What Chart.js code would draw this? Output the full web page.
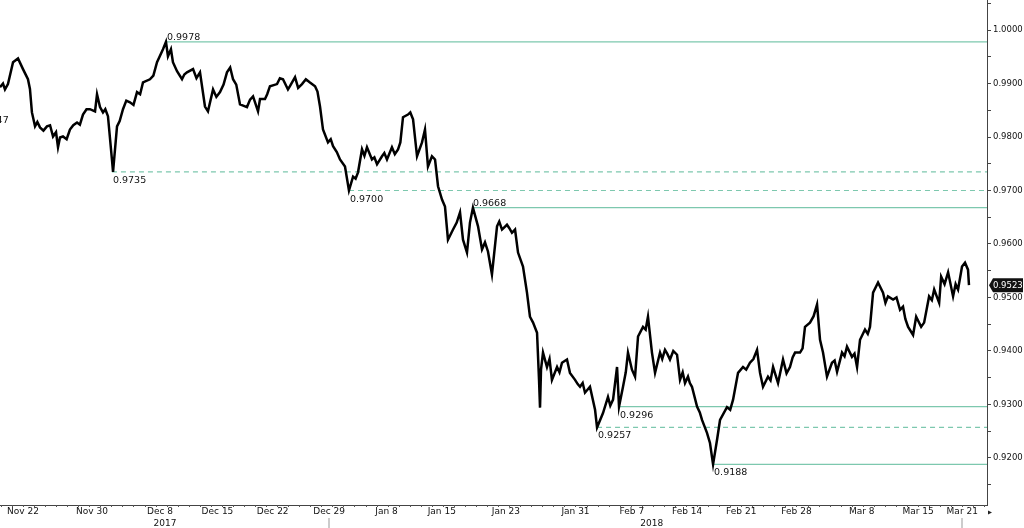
<!DOCTYPE html>
<html><head><meta charset="utf-8">
<script src="https://cdn.jsdelivr.net/npm/chart.js@4.4.1/dist/chart.umd.min.js"></script>
<style>html,body{margin:0;padding:0;background:#fff;}canvas{display:block;}</style>
</head><body>
<canvas id="c" width="1024" height="528"></canvas>
<script>
// trading-day index since Nov 22
const days = [-2.08,-1.81,-1.63,-1.36,-0.90,-0.45,0,0.45,0.63,0.81,1.09,1.30,1.54,1.85,2.17,2.45,2.72,2.99,3.17,3.35,3.62,3.95,4.25,4.55,4.89,5.15,5.43,5.75,6.06,6.52,6.70,6.97,7.24,7.45,7.69,8.05,8.15,8.51,8.75,9.05,9.35,9.68,10.00,10.32,10.60,10.86,11.49,11.80,12.13,12.67,12.94,13.12,13.39,13.57,13.94,14.39,14.60,14.84,15.39,15.70,16.02,16.47,16.74,17.20,17.50,17.83,18.15,18.46,18.75,19.01,19.30,19.64,
20.27,20.55,20.82,21.27,21.45,21.90,22.10,22.35,22.99,23.25,23.53,23.98,24.16,24.62,24.90,25.25,25.60,25.97,26.43,26.65,26.88,27.15,27.60,27.85,28.06,28.40,28.69,29.14,29.50,29.87,30.10,30.32,30.68,30.90,31.13,31.58,31.80,32.04,32.49,32.70,32.94,33.39,33.65,33.94,34.15,34.39,34.84,35.05,35.30,35.66,36.11,36.38,36.65,37.01,37.29,37.56,37.92,38.19,38.46,38.92,39.25,39.55,39.82,40.18,40.45,40.72,41.18,41.54,
41.81,42.08,42.44,42.90,43.10,43.35,43.80,44.00,44.25,44.53,44.80,45.25,45.61,45.88,46.16,46.52,46.70,46.79,46.88,47.06,47.42,47.65,47.87,48.33,48.55,48.78,49.23,49.50,49.96,50.20,50.41,50.65,50.86,51.31,51.77,51.95,52.49,52.94,53.15,53.40,53.76,53.94,54.30,54.55,54.75,55.11,55.39,55.66,56.11,56.35,56.56,56.92,57.20,57.65,57.85,58.10,58.30,58.55,58.85,59.19,59.46,59.70,59.91,60.18,60.35,60.54,61.00,61.25,61.45,61.90,62.17,62.45,62.81,
63.08,63.71,64.00,64.26,64.71,65.16,65.45,65.79,66.10,66.43,66.70,66.97,67.42,67.65,67.88,68.33,68.78,69.10,69.41,69.65,69.87,70.32,70.55,70.77,71.22,71.55,71.86,72.13,72.40,72.76,73.21,73.45,73.67,74.12,74.35,74.57,75.02,75.25,75.48,75.75,76.20,76.45,76.65,76.93,77.38,77.83,78.05,78.28,78.74,79.05,79.37,79.64,79.85,80.10,80.55,80.83,81.28,81.55,82.00,82.25,82.46,82.91,83.09,83.40,83.72,84.17,84.40,84.62,84.98,85.25,85.52,85.61];
const prices = [0.9893,0.9900,0.9889,0.9899,0.9940,0.9947,0.9927,0.9908,0.9890,0.9846,0.9820,0.9828,0.9818,0.9812,0.9820,0.9822,0.9801,0.9809,0.9781,0.9799,0.9801,0.9796,0.9814,0.9822,0.9827,0.9823,0.9842,0.9852,0.9852,0.9848,0.9880,0.9856,0.9846,0.9852,0.9839,0.9758,0.9735,0.9820,0.9830,0.9852,0.9868,0.9865,0.9860,0.9884,0.9880,0.9902,0.9908,0.9915,0.9940,0.9964,0.9978,0.9951,0.9964,0.9940,0.9923,0.9908,0.9917,0.9921,0.9927,0.9910,0.9921,0.9857,0.9848,0.9889,0.9875,0.9884,0.9898,0.9921,0.9930,0.9908,0.9898,0.9861,
0.9856,0.9870,0.9876,0.9848,0.9871,0.9871,0.9880,0.9895,0.9899,0.9910,0.9908,0.9889,0.9895,0.9912,0.9892,0.9899,0.9908,0.9902,0.9895,0.9885,0.9857,0.9814,0.9790,0.9796,0.9783,0.9772,0.9758,0.9745,0.9700,0.9726,0.9722,0.9734,0.9777,0.9765,0.9781,0.9758,0.9762,0.9749,0.9764,0.9770,0.9758,0.9781,0.9768,0.9777,0.9790,0.9837,0.9842,0.9846,0.9833,0.9764,0.9790,0.9814,0.9745,0.9764,0.9758,0.9708,0.9683,0.9670,0.9608,0.9627,0.9640,0.9659,0.9608,0.9584,0.9640,0.9668,0.9633,0.9590,
0.9603,0.9586,0.9543,0.9633,0.9642,0.9627,0.9636,0.9630,0.9621,0.9627,0.9584,0.9558,0.9509,0.9464,0.9453,0.9434,0.9346,0.9294,0.9365,0.9397,0.9370,0.9385,0.9346,0.9370,0.9360,0.9378,0.9384,0.9359,0.9346,0.9338,0.9333,0.9340,0.9322,0.9333,0.9290,0.9257,0.9284,0.9314,0.9298,0.9309,0.9370,0.9296,0.9333,0.9360,0.9397,0.9365,0.9352,0.9427,0.9445,0.9440,0.9464,0.9397,0.9359,0.9397,0.9385,0.9402,0.9395,0.9384,0.9400,0.9393,0.9346,0.9360,0.9340,0.9352,0.9340,0.9333,0.9296,0.9285,0.9271,0.9247,0.9228,0.9188,0.9234,
0.9271,0.9295,0.9290,0.9309,0.9359,0.9370,0.9365,0.9378,0.9385,0.9402,0.9359,0.9333,0.9352,0.9345,0.9370,0.9340,0.9384,0.9358,0.9370,0.9388,0.9397,0.9397,0.9405,0.9445,0.9453,0.9465,0.9487,0.9421,0.9397,0.9352,0.9378,0.9382,0.9361,0.9397,0.9390,0.9408,0.9389,0.9395,0.9370,0.9421,0.9440,0.9432,0.9445,0.9509,0.9528,0.9509,0.9490,0.9502,0.9496,0.9500,0.9477,0.9483,0.9460,0.9445,0.9430,0.9464,0.9445,0.9453,0.9502,0.9495,0.9515,0.9490,0.9539,0.9525,0.9547,0.9502,0.9525,0.9515,0.9558,0.9565,0.9552,0.9523];

const xTickDays = [0,6.24,12.4,17.6,22.6,27.7,32.9,37.9,43.7,50.0,55.1,60.1,65.0,70.0,75.9,81.0,85.0];
const xTickLabels = ['Nov 22','Nov 30','Dec 8','Dec 15','Dec 22','Dec 29','Jan 8','Jan 15','Jan 23','Jan 31','Feb 7','Feb 14','Feb 21','Feb 28','Mar 8','Mar 15','Mar 21'];
const yearLabels = ['2017','2018'];
const yearDays = [12.85, 56.9];
const separatorDays = [27.7, 85.0];

const levelValues = [0.9978, 0.9735, 0.9700, 0.9668, 0.9296, 0.9257, 0.9188];
const levelStarts = [12.94, 8.05, 29.50, 40.63, 53.94, 51.95, 62.45];
const levelDashed = [false, true, true, false, false, true, false];
const levelAbove  = [true, false, false, true, false, false, false];
const offLabelValue = 0.9847, offLabelDay = -4.3;

const yLabelValues = [0.92,0.93,0.94,0.95,0.96,0.97,0.98,0.99,1.00];
const yMinorValues = [0.915,0.925,0.935,0.945,0.955,0.965,0.975,0.985,0.995,1.005];
const lastPrice = 0.9523;

const X_MIN = -2.08, X_MAX = 87.24, Y_MIN = 0.91120, Y_MAX = 1.00562;
const TEAL = 'rgb(125,200,174)';
const FONT = "'DejaVu Sans', Verdana, sans-serif";

Chart.defaults.font.family = FONT;
Chart.defaults.font.size = 9;
Chart.defaults.color = '#111';

const datasets = [{
  data: days.map((d,i)=>({x:d, y:prices[i]})),
  borderColor: '#000', borderWidth: 2.5, pointRadius: 0, tension: 0, order: 0
}];
levelValues.forEach((v,i)=>{
  datasets.push({
    data: [{x: levelStarts[i], y: v}, {x: X_MAX, y: v}],
    borderColor: TEAL, borderWidth: 1.2, pointRadius: 0,
    borderDash: levelDashed[i] ? [5,4] : [], order: 1
  });
});

const zeroPad = s => { s.paddingTop = 0; s.paddingBottom = 0; s.paddingLeft = 0; s.paddingRight = 0; };

const overlay = {
  id: 'overlay',
  afterDatasetsDraw(chart) {
    const ctx = chart.ctx, xs = chart.scales.x, ys = chart.scales.y, ca = chart.chartArea;
    ctx.save();
    ctx.font = '9.5px ' + FONT; ctx.fillStyle = '#111'; ctx.textAlign = 'left'; ctx.textBaseline = 'alphabetic';
    levelValues.forEach((v,i)=>{
      const px = xs.getPixelForValue(levelStarts[i]) + 1;
      const py = ys.getPixelForValue(v);
      ctx.fillText(v.toFixed(4), px, levelAbove[i] ? py - 1.5 : py + 11);
    });
    ctx.fillText(offLabelValue.toFixed(4), xs.getPixelForValue(offLabelDay), ys.getPixelForValue(offLabelValue) + 11);
    ctx.strokeStyle = '#555'; ctx.lineWidth = 1;
    for (let d = Math.ceil(X_MIN); d <= Math.floor(X_MAX); d++) {
      const px = Math.round(xs.getPixelForValue(d)) + 0.5;
      ctx.beginPath(); ctx.moveTo(px, ca.bottom); ctx.lineTo(px, ca.bottom + 2); ctx.stroke();
    }
    ctx.font = '9px ' + FONT; ctx.fillStyle = '#111'; ctx.textAlign = 'center'; ctx.textBaseline = 'middle';
    yearLabels.forEach((t,i)=> ctx.fillText(t, xs.getPixelForValue(yearDays[i]), ca.bottom + 18.5));
    ctx.strokeStyle = '#bbb'; ctx.lineWidth = 1.5;
    separatorDays.forEach(d=>{
      const px = Math.round(xs.getPixelForValue(d));
      ctx.beginPath(); ctx.moveTo(px, ca.bottom + 13); ctx.lineTo(px, chart.height); ctx.stroke();
    });
    ctx.fillStyle = '#222';
    ctx.beginPath(); ctx.moveTo(ca.right + 1, ca.bottom + 5.5); ctx.lineTo(ca.right + 1, ca.bottom + 9.5); ctx.lineTo(ca.right + 5, ca.bottom + 7.5); ctx.closePath(); ctx.fill();
    const ty = ys.getPixelForValue(lastPrice);
    ctx.fillStyle = '#111';
    ctx.beginPath();
    ctx.moveTo(ca.right + 2, ty);
    ctx.lineTo(ca.right + 6, ty - 7);
    ctx.lineTo(chart.width - 1, ty - 7);
    ctx.lineTo(chart.width - 1, ty + 7);
    ctx.lineTo(ca.right + 6, ty + 7);
    ctx.closePath(); ctx.fill();
    ctx.fillStyle = '#fff'; ctx.textAlign = 'left'; ctx.textBaseline = 'middle';
    ctx.font = '8.5px ' + FONT;
    ctx.fillText(lastPrice.toFixed(4), ca.right + 6, ty + 0.5);
    ctx.restore();
  }
};

new Chart(document.getElementById('c'), {
  type: 'line',
  data: { datasets },
  options: {
    responsive: false, animation: false, devicePixelRatio: 1,
    layout: { padding: 0 },
    plugins: { legend: { display: false }, tooltip: { enabled: false } },
    scales: {
      x: {
        type: 'linear', position: 'bottom', min: X_MIN, max: X_MAX,
        afterBuildTicks: s => { s.ticks = xTickDays.map(v=>({value:v})); },
        afterFit: s => { s.height = 23; zeroPad(s); },
        ticks: { autoSkip: false, maxRotation: 0, minRotation: 0, padding: 1,
          font: { size: 9 }, callback: (v, i) => xTickLabels[i] },
        grid: { drawOnChartArea: false, drawTicks: false },
        border: { display: true, color: '#444', width: 1 }
      },
      y: {
        type: 'linear', position: 'right', min: Y_MIN, max: Y_MAX,
        afterBuildTicks: s => { s.ticks = yLabelValues.concat(yMinorValues).sort((a,b)=>a-b).map(v=>({value:v})); },
        afterFit: s => { s.width = 37; zeroPad(s); },
        ticks: { padding: 2, autoSkip: false, font: { size: 8.5 },
          callback: v => yLabelValues.some(t => Math.abs(t - v) < 1e-6) ? v.toFixed(4) : '' },
        grid: { drawOnChartArea: false, drawTicks: true, tickLength: 4, color: '#444' },
        border: { display: true, color: '#444', width: 1 }
      }
    }
  },
  plugins: [overlay]
});
</script>
</body></html>
